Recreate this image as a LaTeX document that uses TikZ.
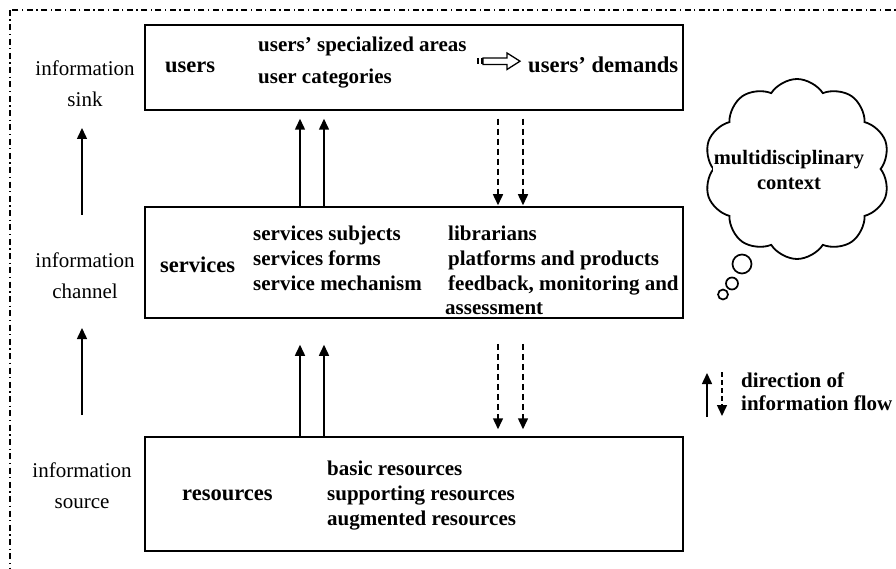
\documentclass[tikz,border=0pt]{standalone}
\usepackage{fontspec}
\setmainfont{Liberation Serif}
\usetikzlibrary{arrows.meta,shapes.symbols}

\tikzset{
  x=1pt, y=-1pt,
  layerbox/.style={draw, line width=1.5pt, minimum width=538pt, inner sep=0pt},
  title/.style={font=\fontsize{22.5pt}{26pt}\selectfont\bfseries, inner sep=0pt, anchor=west},
  item/.style={font=\fontsize{21pt}{25pt}\selectfont\bfseries, inner sep=0pt, anchor=west, align=left},
  side/.style={font=\fontsize{21pt}{31pt}\selectfont, inner sep=0pt, align=center},
  flowup/.style={line width=1.5pt, -{Triangle[length=11pt,width=10pt]}},
  flowdown/.style={line width=1.5pt, dash pattern=on 6pt off 4pt, -{Triangle[length=11pt,width=10pt]}},
  frame/.style={line width=1.4pt, dash pattern=on 6pt off 3.5pt on 1.3pt off 3.5pt},
  bubble/.style={circle, draw, line width=1.7pt, inner sep=0pt},
}

\begin{document}
\begin{tikzpicture}
\clip (0,0) rectangle (896,569);

% dash-dotted outer frame
\draw[frame] (10,10) rectangle (940,600);

% the three layers
\node[layerbox, minimum height=85pt] (users) at (414,67.5) {};
\node[layerbox, minimum height=111pt] (services) at (414,262.5) {};
\node[layerbox, minimum height=114pt] (resources) at (414,494) {};

% users layer
\node[title] (usersT) at (165,67) {users};
\node[item] (areas) at (258,46) {users’ specialized areas};
\node[item] (cats) at (258,79) {user categories};
\node[font=\fontsize{22.6pt}{26pt}\selectfont\bfseries, inner sep=0pt, anchor=west] (demands) at (528,65) {users’ demands};
% striped block arrow
\fill (476.5,58) rectangle (479,64.5);
\fill (480.5,58) rectangle (482.5,64.5);
\draw[line width=1.3pt, line join=miter] (483,58) -- (507,58) -- (507,53) -- (520,61.2) -- (507,69.5) -- (507,64.5) -- (483,64.5) -- cycle;

% services layer
\node[title] (servicesT) at (160,265) {services};
\node[item] (scol1) at (253,258) {services subjects\\services forms\\service mechanism};
\node[item] (scol2) at (448,270) {librarians\\platforms and products\\feedback, monitoring and\\[-1pt]\hspace*{-3pt}assessment};

% resources layer
\node[title] (resourcesT) at (182,495) {resources};
\node[item] (rcol) at (327,495.5) {basic resources\\supporting resources\\augmented resources};

% flows between layers
\draw[flowup] ([xshift=-114pt]services.north) -- ([xshift=-114pt,yshift=-8pt]users.south);
\draw[flowup] ([xshift=-90pt]services.north) -- ([xshift=-90pt,yshift=-8pt]users.south);
\draw[flowdown] ([xshift=84pt,yshift=-8pt]users.south) -- ([xshift=84pt,yshift=1pt]services.north);
\draw[flowdown] ([xshift=109pt,yshift=-8pt]users.south) -- ([xshift=109pt,yshift=1pt]services.north);

\draw[flowup] ([xshift=-114pt]resources.north) -- ([xshift=-114pt,yshift=-26pt]services.south);
\draw[flowup] ([xshift=-90pt]resources.north) -- ([xshift=-90pt,yshift=-26pt]services.south);
\draw[flowdown] ([xshift=84pt,yshift=-25pt]services.south) -- ([xshift=84pt,yshift=7pt]resources.north);
\draw[flowdown] ([xshift=109pt,yshift=-25pt]services.south) -- ([xshift=109pt,yshift=7pt]resources.north);

% left-hand labels
\node[side] (sink) at (85,83.5) {information\\sink};
\node[side] (channel) at (85,276) {information\\channel};
\node[side] (source) at (82,486) {information\\source};
\coordinate (c1) at (82,215);
\coordinate (c2) at (82,128);
\coordinate (c3) at (82,415);
\coordinate (c4) at (82,328);
\draw[flowup] (c1) -- (c2);
\draw[flowup] (c3) -- (c4);

% thought cloud
\node[cloud, draw, line width=1.8pt, cloud puffs=10, cloud puff arc=115, aspect=1,
      minimum width=186pt, minimum height=180pt, inner sep=0pt] (cloud) at (797,169) {};
\node[font=\fontsize{20.5pt}{25pt}\selectfont\bfseries, align=center, inner sep=1pt, fill=white] (ctx) at (789,169.5) {multidisciplinary\\context};
\node[bubble, minimum size=19pt] (b1) at (742,264) {};
\node[bubble, minimum size=12pt] (b2) at (732,283.5) {};
\node[bubble, minimum size=10pt] (b3) at (723,294.5) {};

% legend
\coordinate (l1) at (707,417);
\coordinate (l2) at (707,373);
\coordinate (l3) at (722,372);
\coordinate (l4) at (722,416);
\draw[flowup] (l1) -- (l2);
\draw[flowdown, dash pattern=on 5pt off 3pt] (l3) -- (l4);
\node[font=\fontsize{21pt}{23pt}\selectfont\bfseries, inner sep=0pt, anchor=west, align=left] (legend) at (741,392) {direction of\\information flow};
\end{tikzpicture}
\end{document}
